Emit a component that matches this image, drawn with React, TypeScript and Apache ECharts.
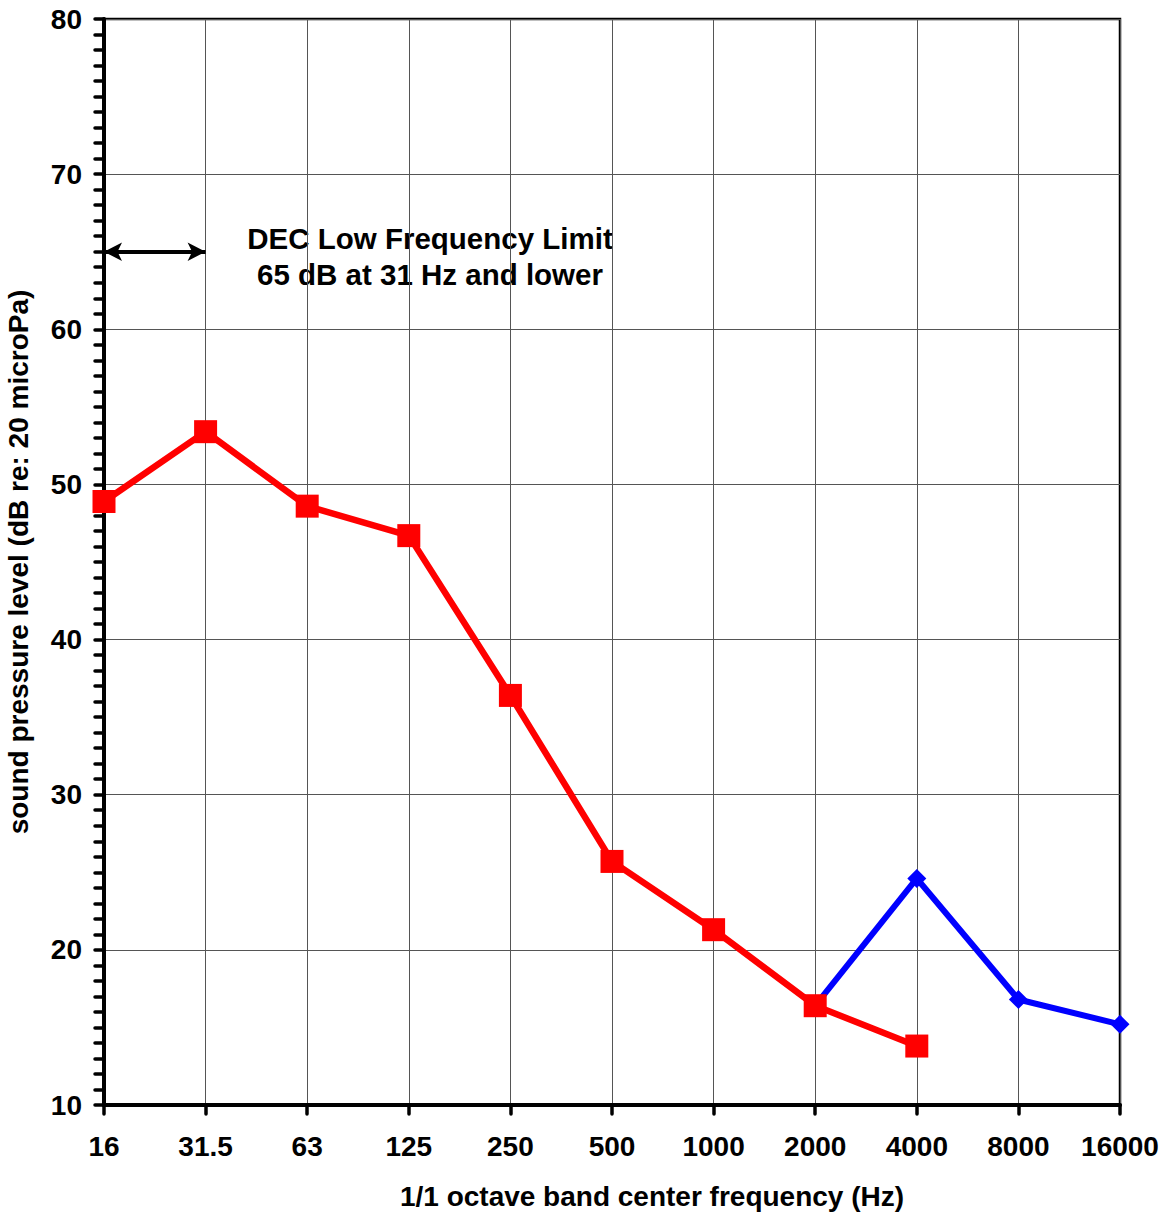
import React, { useEffect, useRef } from "react";
import * as echarts from "echarts";

// 1/1 octave band centre frequencies (Hz)
const bands = ["16", "31.5", "63", "125", "250", "500", "1000", "2000", "4000", "8000", "16000"];

// Measured sound pressure levels, dB re 20 µPa
const lowBandLevels = [48.9, 53.4, 48.6, 46.7, 36.4, 25.7, 21.3, 16.4, 13.8, null, null];
const highBandLevels = [null, null, null, null, null, null, null, 16.4, 24.6, 16.8, 15.2];

// DEC low frequency limit: 65 dB at 31 Hz and lower
const limitLevel = 65;
const limitFrom = "16";
const limitTo = "31.5";

const FONT = "'Liberation Sans', Arial, Helvetica, sans-serif";

export default function App() {
  const ref = useRef<HTMLDivElement>(null);

  useEffect(() => {
    if (!ref.current) return;
    const chart = echarts.init(ref.current, undefined, { renderer: "svg" });
    chart.setOption({
      animation: false,
      backgroundColor: "#fff",
      grid: {
        left: 104,
        right: 46,
        top: 19,
        bottom: 109,
        outerBoundsMode: "none",
        containLabel: false,
        show: true,
        borderColor: "#000",
        borderWidth: 2.5,
        backgroundColor: "transparent",
      },
      xAxis: {
        type: "category",
        data: bands,
        boundaryGap: false,
        name: "1/1 octave band center frequency (Hz)",
        nameLocation: "middle",
        nameGap: 77,
        nameTextStyle: {
          fontFamily: FONT,
          fontWeight: "bold",
          fontSize: 28,
          color: "#000",
          padding: [0, 0, 0, 80],
        },
        axisLine: { lineStyle: { color: "#000", width: 4 } },
        axisTick: {
          interval: 0,
          alignWithLabel: true,
          length: 9,
          lineStyle: { color: "#000", width: 3.5, cap: "round" },
        },
        axisLabel: {
          interval: 0,
          margin: 27,
          fontFamily: FONT,
          fontWeight: "bold",
          fontSize: 28,
          color: "#000",
          hideOverlap: false,
        },
        splitLine: { show: true, interval: 0, lineStyle: { color: "#555", width: 1 } },
        z: 3,
      },
      yAxis: {
        type: "value",
        min: 10,
        max: 80,
        interval: 10,
        name: "sound pressure level (dB re: 20 microPa)",
        nameLocation: "middle",
        nameGap: 72,
        nameTextStyle: { fontFamily: FONT, fontWeight: "bold", fontSize: 28, color: "#000" },
        axisLine: { show: true, lineStyle: { color: "#000", width: 4 } },
        axisTick: { show: true, length: 9, lineStyle: { color: "#000", width: 3.5, cap: "round" } },
        minorTick: {
          show: true,
          splitNumber: 10,
          length: 9,
          lineStyle: { color: "#000", width: 3.5, cap: "round" },
        },
        axisLabel: { margin: 22, fontFamily: FONT, fontWeight: "bold", fontSize: 28, color: "#000" },
        splitLine: { show: true, lineStyle: { color: "#555", width: 1 } },
        z: 3,
      },
      graphic: [
        {
          type: "group",
          z: 10,
          children: [
            { type: "rect", shape: { x: 212, y: 213, width: 404, height: 84 }, style: { fill: "#fff" } },
            {
              type: "text",
              x: 430,
              y: 238,
              style: {
                text: "DEC Low Frequency Limit",
                fontFamily: FONT,
                fontWeight: "bold",
                fontSize: 29.5,
                fill: "#000",
                align: "center",
                verticalAlign: "middle",
              },
            },
            {
              type: "text",
              x: 430,
              y: 274,
              style: {
                text: "65 dB at 31 Hz and lower",
                fontFamily: FONT,
                fontWeight: "bold",
                fontSize: 29.5,
                fill: "#000",
                align: "center",
                verticalAlign: "middle",
              },
            },
          ],
        },
      ],
      series: [
        {
          name: "high bands",
          type: "line",
          data: highBandLevels,
          connectNulls: false,
          symbol: "diamond",
          symbolSize: 19,
          lineStyle: { color: "#0000ff", width: 6 },
          itemStyle: { color: "#0000ff" },
          z: 4,
        },
        {
          name: "low bands",
          type: "line",
          data: lowBandLevels,
          connectNulls: false,
          symbol: "rect",
          symbolSize: 23,
          lineStyle: { color: "#ff0000", width: 6.5 },
          itemStyle: { color: "#ff0000" },
          z: 5,
          markLine: {
            silent: true,
            symbol: ["arrow", "arrow"],
            symbolSize: [14, 18],
            label: { show: false },
            lineStyle: { color: "#000", width: 4, type: "solid" },
            data: [[{ coord: [limitFrom, limitLevel] }, { coord: [limitTo, limitLevel] }]],
          },
        },
      ],
    });
    return () => chart.dispose();
  }, []);

  return (
    <div
      ref={ref}
      style={{ position: "fixed", left: 0, top: 0, width: 1166, height: 1214, background: "#fff" }}
    />
  );
}
